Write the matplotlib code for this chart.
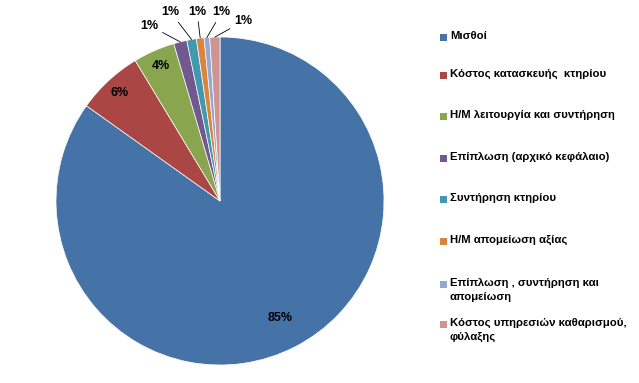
import numpy as np
import matplotlib.pyplot as plt
from matplotlib.patches import Rectangle

# cost shares (%)
categories = [
    "Μισθοί",
    "Κόστος κατασκευής  κτηρίου",
    "Η/Μ λειτουργία και συντήρηση",
    "Επίπλωση (αρχικό κεφάλαιο)",
    "Συντήρηση κτηρίου",
    "Η/Μ απομείωση αξίας",
    "Επίπλωση , συντήρηση και\nαπομείωση",
    "Κόστος υπηρεσιών καθαρισμού,\nφύλαξης",
]
shares = [84.9, 6.5, 4.1, 1.3, 0.95, 0.75, 0.55, 1.0]
colors = ["#4572A7", "#AA4643", "#89A54E", "#71588F",
          "#4198AF", "#DB843D", "#93A9CF", "#D19392"]

FONT = ["Liberation Sans Narrow", "Liberation Sans", "DejaVu Sans"]

fig = plt.figure(figsize=(6.39, 3.83), dpi=100)
W, H = 639, 383
cx, cy, r = 220, 201, 164
ax = fig.add_axes([(cx - r) / W, (H - cy - r) / H, 2 * r / W, 2 * r / H])

wedges, _ = ax.pie(shares, colors=colors, startangle=90, counterclock=False,
                   radius=1.0, wedgeprops=dict(edgecolor="white", linewidth=0.5))
ax.set_xlim(-1, 1)
ax.set_ylim(-1, 1)
ax.axis("off")

total = sum(shares)
# inside labels for the big slices, leader-line labels for the small ones
inside_dist = [0.80, 0.9, 0.9]
outside_pos = [(-0.43, 1.07), (-0.30, 1.15), (-0.14, 1.155), (0.01, 1.15), (0.14, 1.095)]
for i, (w, v) in enumerate(zip(wedges, shares)):
    pct = "%d%%" % int(v / total * 100 + 0.5)
    ang = np.deg2rad((w.theta1 + w.theta2) / 2)
    if i < len(inside_dist):
        d = inside_dist[i]
        ax.text(d * np.cos(ang), d * np.sin(ang), pct, ha="center", va="center",
                fontsize=9, fontweight="bold", family=FONT)
    else:
        tx, ty = outside_pos[i - len(inside_dist)]
        ax.annotate(pct, xy=(np.cos(ang), np.sin(ang)), xytext=(tx, ty),
                    ha="center", va="center", fontsize=9, fontweight="bold",
                    family=FONT, annotation_clip=False,
                    arrowprops=dict(arrowstyle="-", color="black", lw=0.6,
                                    shrinkA=1, shrinkB=0))

# legend drawn by hand to follow the original spacing
leg_y = [37, 75, 116, 158, 199, 241, 284, 324]
for lab, col, y in zip(categories, colors, leg_y):
    fig.patches.append(Rectangle((440 / W, 1 - (y + 3.5) / H), 7 / W, 7 / H,
                                 transform=fig.transFigure, facecolor=col,
                                 edgecolor="none"))
    fig.text(450 / W, 1 - (y - 6) / H, lab, ha="left", va="top",
             fontsize=8.2, fontweight="bold", family=FONT, linespacing=1.45)

fig.savefig("out.png", dpi=100)
